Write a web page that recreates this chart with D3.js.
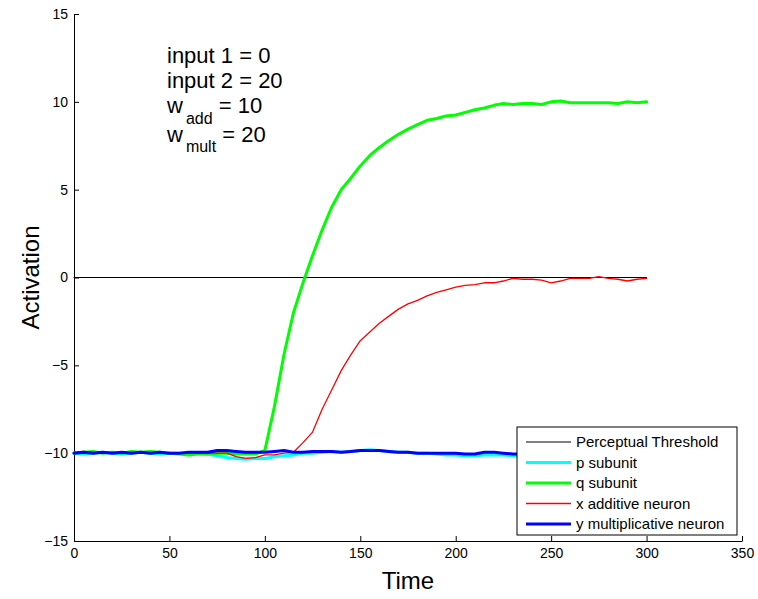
<!DOCTYPE html>
<html>
<head>
<meta charset="utf-8">
<script src="https://cdn.jsdelivr.net/npm/d3@7"></script>
<style>
  body { margin: 0; background: #fff; }
  svg { font-family: "Liberation Sans", Arial, Helvetica, sans-serif; }
  .axis path, .axis line { stroke: #000; }
  .axis text { font-size: 14px; fill: #000; }
</style>
</head>
<body>
<div class="chart"></div>
<script>
// time axis, sampled every 5 steps
const time = d3.range(0, 301, 5)

// q subunit (green)
const qSub = [-10.0,-9.95,-9.9,-10.0,-9.95,-10.0,-9.9,-9.95,-9.9,-9.95,
  -10.0,-10.05,-10.1,-10.05,-10.05,-10.0,-10.0,-10.05,-10.05,-10.05,
  -9.85,-7.35,-4.4,-2.0,-0.3,1.25,2.7,4.0,5.0,5.65,
  6.35,6.95,7.4,7.8,8.15,8.45,8.7,8.95,9.05,9.2,
  9.25,9.4,9.55,9.65,9.8,9.9,9.85,9.9,9.9,9.85,
  10.0,10.05,9.95,9.95,9.95,9.95,9.95,9.9,10.0,9.95,10.0]

// x additive neuron (red)
const xAdd = [-9.95,-9.9,-9.95,-10.0,-9.95,-10.0,-9.95,-10.0,-10.0,-9.95,
  -10.0,-10.0,-10.0,-10.0,-10.0,-10.0,-10.0,-10.2,-10.3,-10.25,
  -10.1,-10.1,-10.0,-9.95,-9.4,-8.8,-7.5,-6.4,-5.3,-4.4,
  -3.6,-3.1,-2.6,-2.2,-1.8,-1.5,-1.3,-1.05,-0.85,-0.7,
  -0.55,-0.45,-0.4,-0.3,-0.3,-0.2,-0.05,-0.1,-0.1,-0.15,
  -0.3,-0.2,-0.05,-0.05,-0.05,0.05,-0.05,-0.1,-0.2,-0.1,-0.05]

// p subunit (cyan)
const pSub = [-10.0,-10.05,-10.0,-9.95,-10.0,-10.05,-10.0,-9.95,-10.0,-10.05,
  -10.0,-10.0,-10.05,-10.0,-10.05,-10.15,-10.25,-10.3,-10.35,-10.3,
  -10.3,-10.2,-10.15,-10.1,-10.0,-10.0,-9.95,-9.9,-9.95,-9.9,
  -9.85,-9.8,-9.85,-9.9,-9.95,-9.95,-10.0,-10.0,-10.05,-10.1,
  -10.1,-10.15,-10.15,-10.1,-10.1,-10.1,-10.15,-10.2,-10.2,-10.15,
  -10.2,-10.25,-10.2,-10.15,-10.2,-10.2,-10.25,-10.2,-10.15,-10.2,-10.2]

// y multiplicative neuron (blue)
const yMult = [-10.0,-9.95,-10.0,-9.95,-10.0,-9.95,-10.0,-9.95,-10.0,-9.95,
  -10.0,-10.0,-9.95,-9.95,-9.95,-9.85,-9.85,-9.9,-9.95,-9.95,
  -9.95,-9.9,-9.85,-9.95,-9.95,-9.9,-9.9,-9.9,-9.95,-9.9,
  -9.85,-9.85,-9.85,-9.9,-9.95,-9.95,-10.0,-10.0,-10.0,-10.0,
  -10.0,-10.05,-10.05,-9.95,-9.95,-10.0,-10.05,-10.05,-10.0,-9.95,
  -10.0,-10.05,-10.0,-9.95,-10.0,-10.05,-10.0,-9.95,-10.0,-10.05,-10.0]

const thresholdT = [0, 300]
const thresholdV = [0, 0]

const xTicks = [0, 50, 100, 150, 200, 250, 300, 350]
const yTicks = [-15, -10, -5, 0, 5, 10, 15]

const legendLabels = ["Perceptual Threshold", "p subunit", "q subunit", "x additive neuron", "y multiplicative neuron"]
const seriesColors = ["#000000", "#00ffff", "#00ff00", "#ff0000", "#0000ff"]
const seriesWidths = [1, 3, 3, 1.3, 3]

const W = 758, H = 599
const margin = {top: 14, right: 16, bottom: 58, left: 74}
const width = W - margin.left - margin.right,
  height = H - margin.top - margin.bottom

const svg = d3.select(".chart").append("svg")
  .attr("width", W)
  .attr("height", H)
const g = svg.append("g")
  .attr("transform", "translate(" + margin.left + "," + margin.top + ")")

const xScale = d3.scaleLinear().domain([0, 350]).range([0, width])
const yScale = d3.scaleLinear().domain([-15, 15]).range([height, 0])

const fmt = d => d < 0 ? "\u2212" + Math.abs(d) : String(d)

g.append("g")
  .attr("class", "axis x-axis")
  .attr("transform", `translate(0, ${height})`)
  .call(d3.axisBottom(xScale).tickValues(xTicks).tickFormat(fmt)
    .tickSizeInner(-5).tickSizeOuter(0).tickPadding(7))

g.append("g")
  .attr("class", "axis y-axis")
  .call(d3.axisLeft(yScale).tickValues(yTicks).tickFormat(fmt)
    .tickSizeInner(-5).tickSizeOuter(0).tickPadding(6))

const line = d3.line()
  .x(d => xScale(d[0]))
  .y(d => yScale(d[1]))

const series = [
  d3.zip(thresholdT, thresholdV),
  d3.zip(time, pSub),
  d3.zip(time, qSub),
  d3.zip(time, xAdd),
  d3.zip(time, yMult)
]

g.selectAll(".series")
  .data(series)
  .enter()
  .append("path")
  .attr("class", "series")
  .attr("d", line)
  .attr("fill", "none")
  .attr("stroke", (d, i) => seriesColors[i])
  .attr("stroke-width", (d, i) => seriesWidths[i])
  .attr("stroke-linejoin", "round")
  .attr("stroke-linecap", "round")

// annotation text
const note = g.append("g").attr("font-size", 22).attr("fill", "#000")
note.append("text").attr("x", 93).attr("y", 49).text("input 1 = 0")
note.append("text").attr("x", 93).attr("y", 74).text("input 2 = 20")
const w1 = note.append("text").attr("x", 93).attr("y", 99)
w1.append("tspan").text("w")
w1.append("tspan").attr("dx", 3).attr("dy", 11).attr("font-size", 16).text("add")
w1.append("tspan").attr("dy", -11).text(" = 10")
const w2 = note.append("text").attr("x", 93).attr("y", 128)
w2.append("tspan").text("w")
w2.append("tspan").attr("dx", 3).attr("dy", 10).attr("font-size", 16).text("mult")
w2.append("tspan").attr("dy", -10).text(" = 20")

// axis titles
svg.append("text")
  .attr("x", margin.left + width / 2)
  .attr("y", 589)
  .attr("text-anchor", "middle")
  .attr("font-size", 24)
  .text("Time")

svg.append("text")
  .attr("transform", `translate(39, ${margin.top + height / 2}) rotate(-90)`)
  .attr("text-anchor", "middle")
  .attr("font-size", 24)
  .text("Activation")

// legend
const legend = svg.append("g").attr("transform", "translate(517, 427)")
legend.append("rect")
  .attr("width", 220)
  .attr("height", 108)
  .attr("fill", "#fff")
  .attr("stroke", "#000")
  .attr("stroke-width", 1)

const items = legend.selectAll(".legend")
  .data(legendLabels)
  .enter()
  .append("g")
  .attr("class", "legend")
  .attr("transform", (d, i) => "translate(0," + (15 + i * 20.5) + ")")

items.append("line")
  .attr("x1", 9).attr("x2", 54)
  .attr("stroke", (d, i) => seriesColors[i])
  .attr("stroke-width", (d, i) => seriesWidths[i])

items.append("text")
  .attr("x", 59)
  .attr("dy", "0.35em")
  .attr("font-size", 15)
  .text(d => d)
</script>
</body>
</html>
